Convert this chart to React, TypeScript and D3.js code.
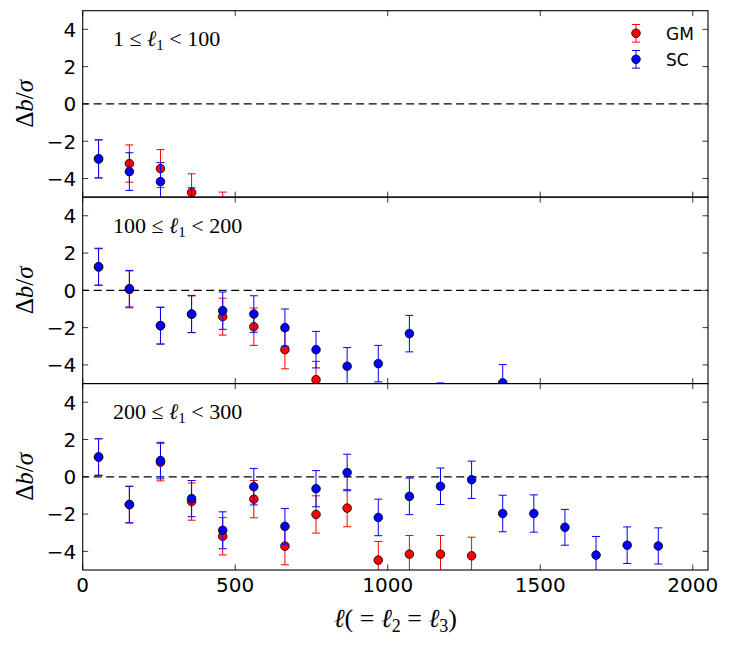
import { useRef, useEffect } from 'react';
import * as d3 from 'd3';

// bin centres along l = l2 = l3
const ells = [52, 153, 255, 357, 459, 561, 663, 765, 867, 969, 1071, 1173, 1275, 1377, 1479, 1581, 1683, 1785, 1887];

// panel 1: 1 <= l1 < 100
const gm1 = [-2.95, -3.2, -3.47, -4.75, -5.73, null, null, null, null, null, null, null, null, null, null, null, null, null, null];
const gm1Err = [1.02, 1.0, 1.02, 1.0, 1.0, 1, 1, 1, 1, 1, 1, 1, 1, 1, 1, 1, 1, 1, 1];
const sc1 = [-2.95, -3.63, -4.17, -5.5, null, null, null, null, null, null, null, null, null, null, null, null, null, null, null];
const sc1Err = [1.02, 1.01, 1.02, 1.0, 1, 1, 1, 1, 1, 1, 1, 1, 1, 1, 1, 1, 1, 1, 1];

// panel 2: 100 <= l1 < 200
const gm2 = [1.25, 0.05, -1.9, -1.28, -1.41, -1.95, -3.18, -4.79, null, null, null, null, null, null, null, null, null, null, null];
const gm2Err = [0.98, 0.99, 0.98, 0.98, 0.99, 1.0, 1.03, 0.98, 1, 1, 1, 1, 1, 1, 1, 1, 1, 1, 1];
const sc2 = [1.27, 0.09, -1.89, -1.27, -1.09, -1.27, -2.0, -3.18, -4.07, -3.93, -2.32, -5.97, null, -4.96, null, null, null, null, null];
const sc2Err = [0.99, 0.98, 0.99, 1.0, 1.0, 0.98, 1.0, 0.98, 1.0, 0.98, 0.98, 1.0, 1, 0.98, 1, 1, 1, 1, 1];

// panel 3: 200 <= l1 < 300
const gm3 = [1.06, -1.49, 0.78, -1.33, -3.19, -1.2, -3.72, -2.02, -1.68, -4.47, -4.15, -4.15, -4.24, null, null, null, null, null, null];
const gm3Err = [0.98, 0.98, 1.0, 1.0, 1.0, 1.0, 1.0, 1.0, 1.0, 1.0, 1.0, 1.0, 1.0, 1, 1, 1, 1, 1, 1];
const sc3 = [1.06, -1.49, 0.87, -1.17, -2.87, -0.53, -2.66, -0.64, 0.23, -2.18, -1.05, -0.51, -0.16, -1.97, -1.97, -2.71, -4.2, -3.67, -3.71];
const sc3Err = [0.98, 0.98, 0.98, 0.97, 0.99, 0.98, 0.96, 0.97, 0.98, 0.98, 0.98, 0.98, 1.0, 0.98, 1.0, 0.96, 1.0, 0.98, 0.97];

const panelLabels = [
  ['1', ' \u2264 ', '\u2113', '1', ' < 100'],
  ['100', ' \u2264 ', '\u2113', '1', ' < 200'],
  ['200', ' \u2264 ', '\u2113', '1', ' < 300'],
];
const xTicks = [0, 500, 1000, 1500, 2000];
const yTicks = [-4, -2, 0, 2, 4];
const seriesNames = ['GM', 'SC'];
const seriesColors = ['#ff0000', '#0000ff'];

const W = 730;
const H = 645;

export default function App() {
  const svgRef = useRef<SVGSVGElement>(null);

  useEffect(() => {
    const svg = d3.select(svgRef.current);
    svg.selectAll('*').remove();

    const left = 82.7;
    const right = 708;
    const top = 10.7;
    const bottom = 570;
    const ph = (bottom - top) / 3;
    const tickLen = 5.5;
    const capW = 4;
    const sans = "'DejaVu Sans', sans-serif";
    const serif = "'Liberation Serif', 'DejaVu Serif', serif";

    const x = d3.scaleLinear().domain([0, 2050]).range([left, right]);

    const panels = [
      { gm: gm1, gmErr: gm1Err, sc: sc1, scErr: sc1Err },
      { gm: gm2, gmErr: gm2Err, sc: sc2, scErr: sc2Err },
      { gm: gm3, gmErr: gm3Err, sc: sc3, scErr: sc3Err },
    ];

    panels.forEach((p, i) => {
      const y0 = top + i * ph;
      const y = d3.scaleLinear().domain([-5, 5]).range([y0 + ph, y0]);
      const clipId = `clip${i}`;

      svg.append('clipPath').attr('id', clipId)
        .append('rect')
        .attr('x', left).attr('y', y0)
        .attr('width', right - left).attr('height', ph);

      // zero line
      svg.append('line')
        .attr('x1', left).attr('x2', right)
        .attr('y1', y(0)).attr('y2', y(0))
        .attr('stroke', '#000')
        .attr('stroke-width', 1.2)
        .attr('stroke-dasharray', '8,4.5')
        .attr('stroke-dashoffset', 1.5);

      const data = svg.append('g').attr('clip-path', `url(#${clipId})`);

      const drawSeries = (vals: (number | null)[], errs: number[], color: string) => {
        const g = data.append('g');
        vals.forEach((v, k) => {
          if (v == null) return;
          const cx = x(ells[k]);
          const yt = y(v + errs[k]);
          const yb = y(v - errs[k]);
          g.append('line')
            .attr('x1', cx).attr('x2', cx)
            .attr('y1', yt).attr('y2', yb)
            .attr('stroke', color).attr('stroke-width', 1);
          [yt, yb].forEach((yy) => {
            g.append('line')
              .attr('x1', cx - capW).attr('x2', cx + capW)
              .attr('y1', yy).attr('y2', yy)
              .attr('stroke', color).attr('stroke-width', 1);
          });
        });
        vals.forEach((v, k) => {
          if (v == null) return;
          g.append('circle')
            .attr('cx', x(ells[k])).attr('cy', y(v))
            .attr('r', 4.3)
            .attr('fill', color)
            .attr('stroke', '#000')
            .attr('stroke-width', 0.8);
        });
      };

      drawSeries(p.gm, p.gmErr, seriesColors[0]);
      drawSeries(p.sc, p.scErr, seriesColors[1]);

      // frame
      svg.append('rect')
        .attr('x', left).attr('y', y0)
        .attr('width', right - left).attr('height', ph)
        .attr('fill', 'none')
        .attr('stroke', '#000')
        .attr('stroke-width', 1.1);

      // ticks on all sides, pointing in
      for (const t of xTicks) {
        const tx = x(t);
        svg.append('line').attr('x1', tx).attr('x2', tx)
          .attr('y1', y0 + ph).attr('y2', y0 + ph - tickLen)
          .attr('stroke', '#000').attr('stroke-width', 0.8);
        svg.append('line').attr('x1', tx).attr('x2', tx)
          .attr('y1', y0).attr('y2', y0 + tickLen)
          .attr('stroke', '#000').attr('stroke-width', 0.8);
      }
      for (const t of yTicks) {
        const ty = y(t);
        svg.append('line').attr('x1', left).attr('x2', left + tickLen)
          .attr('y1', ty).attr('y2', ty)
          .attr('stroke', '#000').attr('stroke-width', 0.8);
        svg.append('line').attr('x1', right).attr('x2', right - tickLen)
          .attr('y1', ty).attr('y2', ty)
          .attr('stroke', '#000').attr('stroke-width', 0.8);
        svg.append('text')
          .attr('x', left - 6.5)
          .attr('y', ty + 7.3)
          .attr('text-anchor', 'end')
          .attr('font-family', sans)
          .attr('font-size', '20px')
          .attr('fill', '#000')
          .text(t < 0 ? `\u2212${Math.abs(t)}` : `${t}`);
      }

      // y label
      const yl = svg.append('text')
        .attr('transform', `translate(33,${y0 + ph / 2}) rotate(-90)`)
        .attr('text-anchor', 'middle')
        .attr('font-family', serif)
        .attr('font-size', '25px')
        .attr('fill', '#000');
      yl.append('tspan').text('\u0394');
      yl.append('tspan').attr('font-style', 'italic').text('b');
      yl.append('tspan').text('/');
      yl.append('tspan').attr('font-style', 'italic').text('\u03c3');

      // panel label
      const lab = panelLabels[i];
      const pl = svg.append('text')
        .attr('x', 113)
        .attr('y', y0 + 35.5)
        .attr('font-family', serif)
        .attr('font-size', '22px')
        .attr('fill', '#000')
        .attr('xml:space', 'preserve');
      pl.append('tspan').text(lab[0]);
      pl.append('tspan').text(lab[1]);
      pl.append('tspan').attr('font-style', 'italic').text(lab[2]);
      pl.append('tspan').attr('font-size', '15px').attr('dy', 4).text(lab[3]);
      pl.append('tspan').attr('dy', -4).text(lab[4]);
    });

    // x tick labels
    for (const t of xTicks) {
      svg.append('text')
        .attr('x', x(t))
        .attr('y', 592.3)
        .attr('text-anchor', 'middle')
        .attr('font-family', sans)
        .attr('font-size', '20px')
        .attr('fill', '#000')
        .text(`${t}`);
    }

    // x label
    const xl = svg.append('text')
      .attr('x', (left + right) / 2)
      .attr('y', 627)
      .attr('text-anchor', 'middle')
      .attr('font-family', serif)
      .attr('font-size', '26px')
      .attr('fill', '#000')
      .attr('xml:space', 'preserve');
    xl.append('tspan').attr('font-style', 'italic').text('\u2113');
    xl.append('tspan').text('( = ');
    xl.append('tspan').attr('font-style', 'italic').text('\u2113');
    xl.append('tspan').attr('font-size', '18px').attr('dy', 5).text('2');
    xl.append('tspan').attr('dy', -5).text(' = ');
    xl.append('tspan').attr('font-style', 'italic').text('\u2113');
    xl.append('tspan').attr('font-size', '18px').attr('dy', 5).text('3');
    xl.append('tspan').attr('dy', -5).text(')');

    // legend
    seriesNames.forEach((name, k) => {
      const lx = 636;
      const ly = 33.3 + k * 26;
      const c = seriesColors[k];
      svg.append('line').attr('x1', lx).attr('x2', lx)
        .attr('y1', ly - 8.8).attr('y2', ly + 8.8)
        .attr('stroke', c).attr('stroke-width', 1);
      [ly - 8.8, ly + 8.8].forEach((yy) => {
        svg.append('line').attr('x1', lx - capW).attr('x2', lx + capW)
          .attr('y1', yy).attr('y2', yy)
          .attr('stroke', c).attr('stroke-width', 1);
      });
      svg.append('circle')
        .attr('cx', lx).attr('cy', ly).attr('r', 4.3)
        .attr('fill', c).attr('stroke', '#000').attr('stroke-width', 0.8);
      svg.append('text')
        .attr('x', 666)
        .attr('y', ly + 6.2)
        .attr('font-family', sans)
        .attr('font-size', '17px')
        .attr('fill', '#000')
        .text(name);
    });
  }, []);

  return (
    <svg
      ref={svgRef}
      width={W}
      height={H}
      viewBox={`0 0 ${W} ${H}`}
      style={{ position: 'absolute', left: 0, top: 0, background: '#fff' }}
    />
  );
}
